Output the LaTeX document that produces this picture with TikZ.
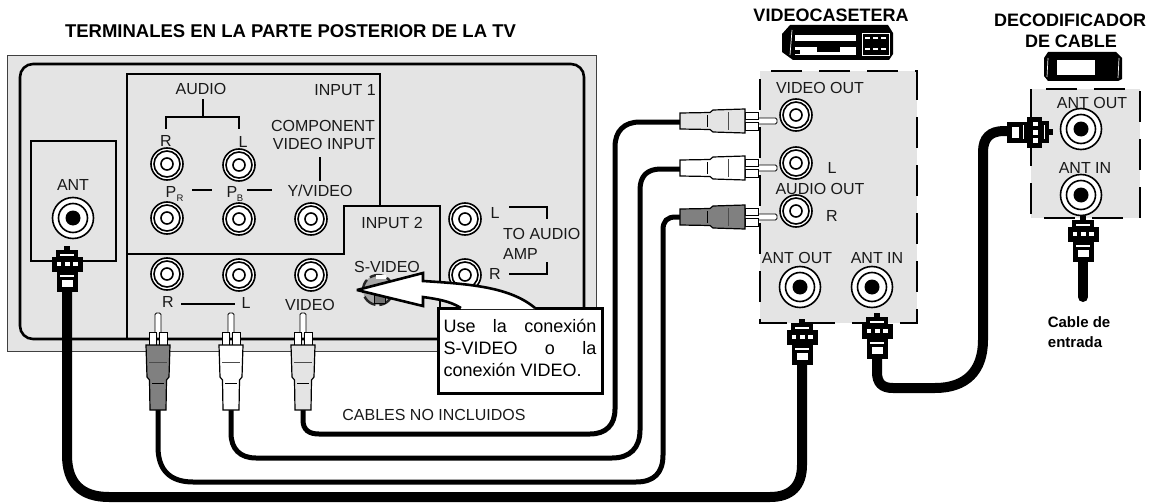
\documentclass[tikz,border=0pt]{standalone}
\usepackage{fontspec}
\setmainfont{Liberation Sans}
\definecolor{panel}{HTML}{E4E4E4}
\definecolor{plugdark}{HTML}{808080}
\tikzset{
  lbl/.style={inner sep=0pt,font=\fontsize{16}{18}\selectfont,text=black!90},
  ttl/.style={inner sep=0pt,font=\fontsize{18}{20}\bfseries\selectfont},
  thickline/.style={line width=2.6pt,line join=miter},
  tinline/.style={line width=1.3pt},
  cablethin/.style={line width=5pt},
  cablefat/.style={line width=10pt},
  ringo/.style={circle,draw=black,fill=white,inner sep=0pt,line width=1.6pt},
  pics/rca/.style={code={
    \draw[line width=.8pt,fill=white,rounded corners=1.5pt] (-3,20)--(-3,0)--(3,0)--(3,20);
    \draw[line width=.8pt,fill=white] (-9,32) rectangle (-1.5,19);
    \draw[line width=.8pt,fill=white] (1.5,32) rectangle (9,19);
    \draw[line width=1.2pt,fill=#1] (-12,32)--(12,32)--(11,64)--(8.5,67)--(8,97)--(-8,97)--(-8.5,67)--(-11,64)--cycle;
    \draw[line width=1pt,draw=black!70] (-9,49)--(9,49);
    \draw[line width=1pt] (-6,70)--(6,70);
  }},
  pics/fconn/.style={code={
    \fill (-3,0) rectangle (3,6);
    \fill (-11,4) rectangle (11,12);
    \fill (-15.5,11) rectangle (15.5,26);
    \fill (-10.5,25) rectangle (10.5,46);
    \fill[white] (-7,8) rectangle (7,9.5);
    \fill[white] (-10.5,15.5) rectangle (-6,20);
    \fill[white] (-2.5,15.5) rectangle (2.5,20);
    \fill[white] (6,15.5) rectangle (10.5,20);
    \fill[white] (-7,29) rectangle (7,30.5);
    \fill[white] (-5.5,34) rectangle (5.5,41);
  }},
}
\newcommand\smalljack[2]{%
  \node[ringo,minimum size=32pt] (#1) at (#2) {};
  \node[ringo,minimum size=26pt] (#1m) at (#2) {};
  \node[ringo,minimum size=12pt] (#1i) at (#2) {};}
\newcommand\bigjack[2]{%
  \node[ringo,minimum size=41pt] (#1) at (#2) {};
  \node[ringo,minimum size=29pt] (#1m) at (#2) {};
  \node[circle,fill=black,inner sep=0pt,minimum size=15pt] (#1i) at (#2) {};}
\begin{document}
\begin{tikzpicture}[x=1pt,y=-1pt]
\useasboundingbox (0,0) rectangle (1154,503);
% TV panel
\draw[line width=1pt,draw=black!75,fill=panel] (7,56) rectangle (596,351);
\draw[thickline,rounded corners=13pt] (20,64) rectangle (584,339);
\draw[thickline] (127,339)--(127,74)--(380,74)--(380,206);
\draw[thickline] (127,254)--(344,254)--(344,206)--(440,206)--(440,339);
\draw[tinline] (31,141) rectangle (116,261);
% panels for VCR and decoder
\fill[panel] (760,71) rectangle (917,323);
\draw[line width=1.5pt,dash pattern=on 31pt off 17pt,dash phase=-5pt] (766,71)--(917,71)--(917,323)--(760,323)--(760,71);
\fill[panel] (1031,89) rectangle (1140,218);
\draw[line width=1.5pt,dash pattern=on 31pt off 17pt,dash phase=-5pt] (1041,89)--(1140,89)--(1140,218)--(1031,218)--(1031,89);
% brackets and label rules
\draw[tinline] (203,99)--(203,117);
\draw[tinline] (166,129)--(166,117)--(239,117)--(239,129);
\draw[tinline] (320,157)--(320,181);
\draw[tinline] (192,190)--(212,190);
\draw[tinline] (247,190)--(272,190);
\draw[tinline] (509,207)--(547,207)--(547,219);
\draw[tinline] (509,274)--(547,274)--(547,262);
\draw[tinline] (181,304)--(235,304);
% jacks
\smalljack{ja}{167,164}
\smalljack{jb}{239,165}
\smalljack{jc}{167,218}
\smalljack{jd}{239,219}
\smalljack{je}{311,219}
\smalljack{jf}{167,274}
\smalljack{jg}{239,275}
\smalljack{jh}{311,275}
\smalljack{ji}{465,219}
\smalljack{jj}{465,275}
\smalljack{va}{796,115}
\smalljack{vb}{796,163}
\smalljack{vc}{796,211}
\bigjack{ant}{73,218}
\bigjack{vo}{800,287}
\bigjack{vi}{872,287}
\bigjack{do}{1081,129}
\bigjack{di}{1081,195}
% S-video socket
\node[circle,draw=black!85,fill=black!35,line width=2.4pt,dash pattern=on 14pt off 4pt,minimum size=30pt,inner sep=0pt] (sv) at (378,290) {};
\node[fill=white,minimum width=10pt,minimum height=4pt,inner sep=0pt] (sva) at (381,277) {};
\node[fill=black!55,draw=black,line width=.5pt,minimum width=11pt,minimum height=8pt,inner sep=0pt] (svb) at (380,299) {};
% labels
\node[ttl,font=\fontsize{18.5}{20}\bfseries\selectfont] (t1) at (290.5,31) {TERMINALES EN LA PARTE POSTERIOR DE LA TV};
\node[ttl] (t2) at (831,15) {VIDEOCASETERA};
\node[ttl] (t3) at (1070,20) {DECODIFICADOR};
\node[ttl] (t4) at (1071,41) {DE CABLE};
\node[lbl] (l1) at (201,89) {AUDIO};
\node[lbl] (l2) at (345,90) {INPUT 1};
\node[lbl] (l3) at (166,141) {R};
\node[lbl] (l4) at (243,142) {L};
\node[lbl] (l5) at (323,126) {COMPONENT};
\node[lbl] (l6) at (324,144) {VIDEO INPUT};
\node[lbl] (l7) at (320,191) {Y/VIDEO};
\node[lbl] (l8) at (171,192) {P};
\node[lbl,font=\fontsize{9.5}{10}\selectfont] (l9) at (180,198) {R};
\node[lbl] (l10) at (232,192) {P};
\node[lbl,font=\fontsize{9.5}{10}\selectfont] (l11) at (240,198) {B};
\node[lbl] (l12) at (73,185) {ANT};
\node[lbl] (l13) at (392,223) {INPUT 2};
\node[lbl] (l14) at (387,267) {S-VIDEO};
\node[lbl] (l15) at (495,213) {L};
\node[lbl,anchor=west] (l16) at (503,234) {TO AUDIO};
\node[lbl,anchor=west] (l17) at (503,254) {AMP};
\node[lbl] (l18) at (495,274) {R};
\node[lbl] (l19) at (168,302) {R};
\node[lbl] (l20) at (246,303) {L};
\node[lbl] (l21) at (310,305) {VIDEO};
\node[lbl] (l22) at (434,415) {CABLES NO INCLUIDOS};
\node[lbl] (l23) at (820,88) {VIDEO OUT};
\node[lbl] (l24) at (832,168) {L};
\node[lbl] (l25) at (820,189) {AUDIO OUT};
\node[lbl] (l26) at (832,216) {R};
\node[lbl] (l27) at (797,258) {ANT OUT};
\node[lbl] (l28) at (877,258) {ANT IN};
\node[lbl] (l29) at (1092,103) {ANT OUT};
\node[lbl] (l30) at (1085,168) {ANT IN};
\node[inner sep=0pt,font=\fontsize{15}{17}\bfseries\selectfont] (l31) at (1079,322) {Cable de};
\node[inner sep=0pt,font=\fontsize{15}{17}\bfseries\selectfont] (l32) at (1075,342) {entrada};
% cable anchor points
\coordinate (cVa) at (303,409);
\coordinate (cVb) at (681,122);
\coordinate (cLa) at (231,409);
\coordinate (cLb) at (681,169);
\coordinate (cRa) at (158,409);
\coordinate (cRb) at (681,217);
\coordinate (cAa) at (67,288);
\coordinate (cAb) at (802,362);
\coordinate (cIa) at (877,356);
\coordinate (cIb) at (1011,131);
\coordinate (cEa) at (1083,258);
\coordinate (cEb) at (1083,297);
% cables
\draw[cablethin] (cVa)--(303,420) .. controls (303,430) and (309,434) .. (319,434) -- (590,434) .. controls (606,434) and (615,425) .. (615,409) -- (615,147) .. controls (615,131) and (624,122) .. (640,122) -- (cVb);
\draw[cablethin] (cLa)--(231,433) .. controls (231,449) and (240,458) .. (256,458) -- (612,458) .. controls (630,458) and (640,448) .. (640,430) -- (640,190) .. controls (640,176) and (647,169) .. (661,169) -- (cLb);
\draw[cablethin] (cRa)--(158,447) .. controls (158,470) and (170,482) .. (193,482) -- (636,482) .. controls (654,482) and (663,473) .. (663,455) -- (663,230) .. controls (663,221) and (667,217) .. (676,217) -- (cRb);
\draw[cablefat] (cAa)--(67,455) .. controls (67,483) and (81,497) .. (109,497) -- (770,497) .. controls (791,497) and (802,486) .. (802,465) -- (cAb);
\draw[cablefat] (cIa)--(877,372) .. controls (877,383) and (882,388) .. (893,388) -- (935,388) .. controls (966,388) and (983,371) .. (983,340) -- (983,152) .. controls (983,138) and (990,131) .. (1004,131) -- (cIb);
\draw[line width=10pt,line cap=round] (cEa)--(cEb);
% connectors
\pic at (158,313) {rca=plugdark};
\pic at (231,313) {rca=white};
\pic at (303,313) {rca=panel};
\pic[rotate=-90] at (777,121) {rca=panel};
\pic[rotate=-90] at (777,168) {rca=white};
\pic[rotate=-90] at (777,217) {rca=plugdark};
\pic at (67,246) {fconn};
\pic at (802,319) {fconn};
\pic at (877,313) {fconn};
\pic at (1083,216) {fconn};
\pic[rotate=-90] at (1053,132) {fconn};
% VCR icon
\fill (782,34)--(790,25)--(888,25)--(893,33)--(893,54)--(889,60)--(793,60)--(782,52)--cycle;
\fill[white] (795,35) rectangle (856,41);
\fill[white] (795,47) rectangle (856,55);
\fill (817,47) rectangle (840,52);
\fill (795,50) rectangle (800,54);
\draw[white,line width=.7pt] (792,30)--(790,55);
\draw[white,line width=.7pt] (862,33) rectangle (889,55);
\draw[white,line width=1.2pt,dash pattern=on 5pt off 3pt] (865,38)--(887,38);
\draw[white,line width=1.2pt,dash pattern=on 5pt off 3pt] (865,49)--(887,49);
% decoder icon
\fill (1044,58)--(1048,52)--(1116,52)--(1122,58)--(1122,79)--(1118,81)--(1048,81)--(1044,76)--cycle;
\fill[white] (1057,60) rectangle (1095,75);
\draw[white,line width=.7pt] (1048,58)--(1047,77);
\draw[white,line width=.7pt] (1119,58)--(1118,78);
% callout
\draw[line width=3pt,fill=white] (438,308) rectangle (602,393);
\fill[white] (357,290)--(423,273)--(423,281) .. controls (470,284) and (510,287) .. (535,309)--(461,309) .. controls (450,301) and (437,299) .. (423,297)--(423,306)--cycle;
\draw[line width=2.6pt,line join=miter,miter limit=3] (535,308) .. controls (510,287) and (470,284) .. (423,281)--(423,273)--(357,290)--(423,306)--(423,297) .. controls (437,299) and (450,301) .. (461,308);
\node[inner sep=0pt,align=left,font=\fontsize{18}{22}\selectfont] (note) at (520,348) {%
  \makebox[153pt][s]{Use\hfill la\hfill conexión}\\
  \makebox[153pt][s]{S-VIDEO\hfill o\hfill la}\\
  \makebox[153pt][l]{conexión VIDEO.}};
\end{tikzpicture}
\end{document}
